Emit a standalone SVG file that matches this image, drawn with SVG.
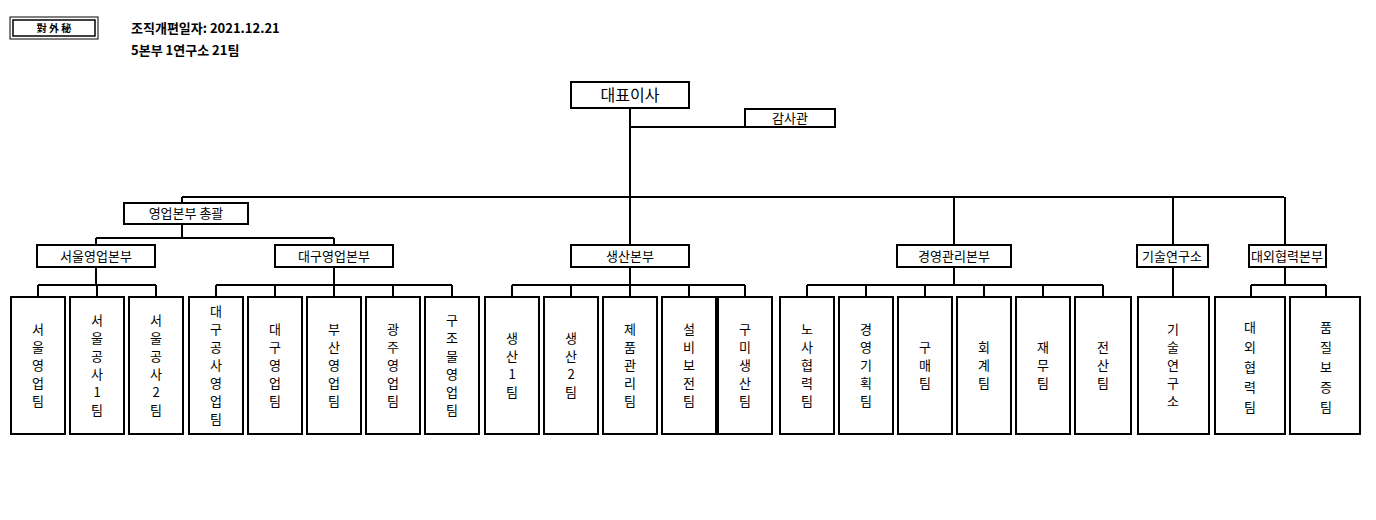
<svg xmlns="http://www.w3.org/2000/svg" width="1376" height="520" viewBox="0 0 1376 520">
<style>
text{font-family:"Noto Sans CJK KR","Noto Sans",sans-serif;fill:#000}
.b{fill:#fff;stroke:#000;stroke-width:2}
.l{fill:none;stroke:#000;stroke-width:2}
.h{font-size:13px;font-weight:bold}
.m{font-size:13px;text-anchor:middle}
.t{font-size:16px;text-anchor:middle}
.v{font-size:13px;text-anchor:middle}
</style>
<rect width="1376" height="520" fill="#fff"/>
<g id="secret"><rect x="10" y="17" width="88" height="22" fill="none" stroke="#000" stroke-width="1"/><rect x="13" y="20" width="82" height="16" fill="none" stroke="#000" stroke-width="1.5"/><text x="54" y="32" style="font-size:10px;font-weight:bold" text-anchor="middle">對 外 秘</text></g>
<text class="h" x="131" y="33">조직개편일자: 2021.12.21</text>
<text class="h" x="131" y="55">5본부 1연구소 21팀</text>
<g id="connectors">
<path class="l" d="M630 108V245M630 127H745M182 197H1284M182 197V203M182 224V238M96 238H334M96 238V245M334 238V245M954 197V245M1173 197V245M1285 197V245"/>
<path class="l" d="M96 267V285M38 285H156M38 285V297M97 285V297M156 285V297"/>
<path class="l" d="M334 267V285M216 285H452M216 285V297M275 285V297M334 285V297M393 285V297M452 285V297"/>
<path class="l" d="M630 267V285M512 285H745M512 285V297M571 285V297M630 285V297M689 285V297M745 285V297"/>
<path class="l" d="M954 267V285M807 285H1103M807 285V297M866 285V297M925 285V297M984 285V297M1043 285V297M1103 285V297"/>
<path class="l" d="M1173 267V297"/>
<path class="l" d="M1285 267V285M1251 285H1326M1251 285V297M1326 285V297"/>
</g>
<g id="ceo"><rect class="b" x="571" y="82" width="118" height="26"/><text class="t" x="630" y="101">대표이사</text></g>
<g id="audit"><rect class="b" x="745" y="109" width="90" height="18"/><text class="m" x="790" y="123">감사관</text></g>
<g id="sales"><rect class="b" x="124" y="203" width="124" height="21"/><text class="m" x="186" y="218">영업본부 총괄</text></g>
<g id="seoul"><rect class="b" x="37" y="245" width="118" height="22"/><text class="m" x="96" y="261">서울영업본부</text></g>
<g id="daegu"><rect class="b" x="275" y="245" width="118" height="22"/><text class="m" x="334" y="261">대구영업본부</text></g>
<g id="prod"><rect class="b" x="571" y="245" width="118" height="22"/><text class="m" x="630" y="261">생산본부</text></g>
<g id="mgmt"><rect class="b" x="897" y="245" width="114" height="22"/><text class="m" x="954" y="261">경영관리본부</text></g>
<g id="lab"><rect class="b" x="1137" y="245" width="71" height="22"/><text class="m" x="1172" y="261">기술연구소</text></g>
<g id="ext"><rect class="b" x="1249" y="245" width="77" height="22"/><text class="m" x="1287" y="261">대외협력본부</text></g>
<g id="n1"><rect class="b" x="11" y="297" width="54" height="137"/><text class="v"><tspan x="38" y="334">서</tspan><tspan x="38" dy="18">울</tspan><tspan x="38" dy="18">영</tspan><tspan x="38" dy="18">업</tspan><tspan x="38" dy="18">팀</tspan></text></g>
<g id="n2"><rect class="b" x="70" y="297" width="54" height="137"/><text class="v"><tspan x="97" y="325">서</tspan><tspan x="97" dy="18">울</tspan><tspan x="97" dy="18">공</tspan><tspan x="97" dy="18">사</tspan><tspan x="97" dy="18">1</tspan><tspan x="97" dy="18">팀</tspan></text></g>
<g id="n3"><rect class="b" x="129" y="297" width="54" height="137"/><text class="v"><tspan x="156" y="325">서</tspan><tspan x="156" dy="18">울</tspan><tspan x="156" dy="18">공</tspan><tspan x="156" dy="18">사</tspan><tspan x="156" dy="18">2</tspan><tspan x="156" dy="18">팀</tspan></text></g>
<g id="n4"><rect class="b" x="189" y="297" width="54" height="137"/><text class="v"><tspan x="216" y="316">대</tspan><tspan x="216" dy="18">구</tspan><tspan x="216" dy="18">공</tspan><tspan x="216" dy="18">사</tspan><tspan x="216" dy="18">영</tspan><tspan x="216" dy="18">업</tspan><tspan x="216" dy="18">팀</tspan></text></g>
<g id="n5"><rect class="b" x="248" y="297" width="54" height="137"/><text class="v"><tspan x="275" y="334">대</tspan><tspan x="275" dy="18">구</tspan><tspan x="275" dy="18">영</tspan><tspan x="275" dy="18">업</tspan><tspan x="275" dy="18">팀</tspan></text></g>
<g id="n6"><rect class="b" x="307" y="297" width="54" height="137"/><text class="v"><tspan x="334" y="334">부</tspan><tspan x="334" dy="18">산</tspan><tspan x="334" dy="18">영</tspan><tspan x="334" dy="18">업</tspan><tspan x="334" dy="18">팀</tspan></text></g>
<g id="n7"><rect class="b" x="366" y="297" width="54" height="137"/><text class="v"><tspan x="393" y="334">광</tspan><tspan x="393" dy="18">주</tspan><tspan x="393" dy="18">영</tspan><tspan x="393" dy="18">업</tspan><tspan x="393" dy="18">팀</tspan></text></g>
<g id="n8"><rect class="b" x="425" y="297" width="54" height="137"/><text class="v"><tspan x="452" y="325">구</tspan><tspan x="452" dy="18">조</tspan><tspan x="452" dy="18">물</tspan><tspan x="452" dy="18">영</tspan><tspan x="452" dy="18">업</tspan><tspan x="452" dy="18">팀</tspan></text></g>
<g id="n9"><rect class="b" x="485" y="297" width="54" height="137"/><text class="v"><tspan x="512" y="343">생</tspan><tspan x="512" dy="18">산</tspan><tspan x="512" dy="18">1</tspan><tspan x="512" dy="18">팀</tspan></text></g>
<g id="n10"><rect class="b" x="544" y="297" width="54" height="137"/><text class="v"><tspan x="571" y="343">생</tspan><tspan x="571" dy="18">산</tspan><tspan x="571" dy="18">2</tspan><tspan x="571" dy="18">팀</tspan></text></g>
<g id="n11"><rect class="b" x="603" y="297" width="54" height="137"/><text class="v"><tspan x="630" y="334">제</tspan><tspan x="630" dy="18">품</tspan><tspan x="630" dy="18">관</tspan><tspan x="630" dy="18">리</tspan><tspan x="630" dy="18">팀</tspan></text></g>
<g id="n12"><rect class="b" x="662" y="297" width="54" height="137"/><text class="v"><tspan x="689" y="334">설</tspan><tspan x="689" dy="18">비</tspan><tspan x="689" dy="18">보</tspan><tspan x="689" dy="18">전</tspan><tspan x="689" dy="18">팀</tspan></text></g>
<g id="n13"><rect class="b" x="718" y="297" width="54" height="137"/><text class="v"><tspan x="745" y="334">구</tspan><tspan x="745" dy="18">미</tspan><tspan x="745" dy="18">생</tspan><tspan x="745" dy="18">산</tspan><tspan x="745" dy="18">팀</tspan></text></g>
<g id="n14"><rect class="b" x="780" y="297" width="54" height="137"/><text class="v"><tspan x="807" y="334">노</tspan><tspan x="807" dy="18">사</tspan><tspan x="807" dy="18">협</tspan><tspan x="807" dy="18">력</tspan><tspan x="807" dy="18">팀</tspan></text></g>
<g id="n15"><rect class="b" x="839" y="297" width="54" height="137"/><text class="v"><tspan x="866" y="334">경</tspan><tspan x="866" dy="18">영</tspan><tspan x="866" dy="18">기</tspan><tspan x="866" dy="18">획</tspan><tspan x="866" dy="18">팀</tspan></text></g>
<g id="n16"><rect class="b" x="898" y="297" width="54" height="137"/><text class="v"><tspan x="925" y="352">구</tspan><tspan x="925" dy="18">매</tspan><tspan x="925" dy="18">팀</tspan></text></g>
<g id="n17"><rect class="b" x="957" y="297" width="54" height="137"/><text class="v"><tspan x="984" y="352">회</tspan><tspan x="984" dy="18">계</tspan><tspan x="984" dy="18">팀</tspan></text></g>
<g id="n18"><rect class="b" x="1016" y="297" width="54" height="137"/><text class="v"><tspan x="1043" y="352">재</tspan><tspan x="1043" dy="18">무</tspan><tspan x="1043" dy="18">팀</tspan></text></g>
<g id="n19"><rect class="b" x="1075" y="297" width="56" height="137"/><text class="v"><tspan x="1103" y="352">전</tspan><tspan x="1103" dy="18">산</tspan><tspan x="1103" dy="18">팀</tspan></text></g>
<g id="n20"><rect class="b" x="1138" y="297" width="71" height="137"/><text class="v"><tspan x="1173" y="334">기</tspan><tspan x="1173" dy="18">술</tspan><tspan x="1173" dy="18">연</tspan><tspan x="1173" dy="18">구</tspan><tspan x="1173" dy="18">소</tspan></text></g>
<g id="n21"><rect class="b" x="1215" y="297" width="70" height="137"/><text class="v"><tspan x="1250" y="332">대</tspan><tspan x="1250" dy="20">외</tspan><tspan x="1250" dy="20">협</tspan><tspan x="1250" dy="20">력</tspan><tspan x="1250" dy="20">팀</tspan></text></g>
<g id="n22"><rect class="b" x="1290" y="297" width="70" height="137"/><text class="v"><tspan x="1326" y="332">품</tspan><tspan x="1326" dy="20">질</tspan><tspan x="1326" dy="20">보</tspan><tspan x="1326" dy="20">증</tspan><tspan x="1326" dy="20">팀</tspan></text></g>
</svg>
